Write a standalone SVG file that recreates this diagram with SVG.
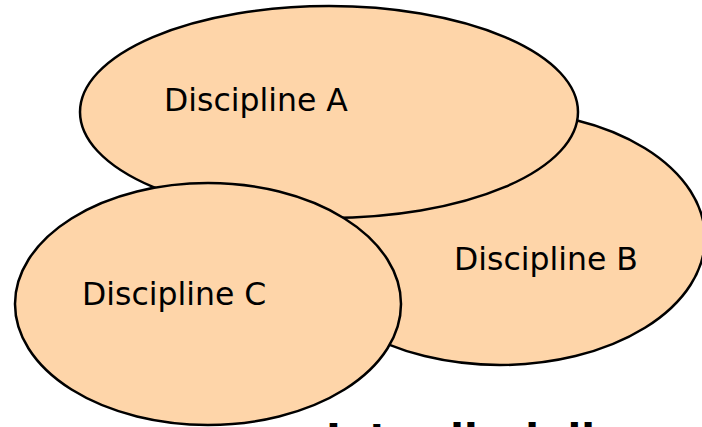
<svg xmlns="http://www.w3.org/2000/svg" width="702" height="427" viewBox="0 0 702 427">
<style>
.n{fill:#FED5A9;stroke:#000;stroke-width:2.5}
.l{font-family:"DejaVu Sans",Verdana,sans-serif;font-size:31.5px;fill:#000}
.t{font-family:"DejaVu Sans",Verdana,sans-serif;font-size:40px;font-weight:bold;fill:#000}
</style>
<rect width="702" height="427" fill="#fff"/>
<g id="connectors"></g>
<g id="nodeB"><ellipse class="n" cx="500" cy="238" rx="205" ry="127"/><text class="l" x="454" y="270">Discipline B</text></g>
<g id="nodeA"><ellipse class="n" cx="329" cy="112" rx="249" ry="106"/><text class="l" x="164" y="111">Discipline A</text></g>
<g id="nodeC"><ellipse class="n" cx="208" cy="304" rx="193" ry="121"/><text class="l" x="82" y="305">Discipline C</text></g>
<text class="t" x="326" y="453">Interdisciplinary</text>
</svg>
